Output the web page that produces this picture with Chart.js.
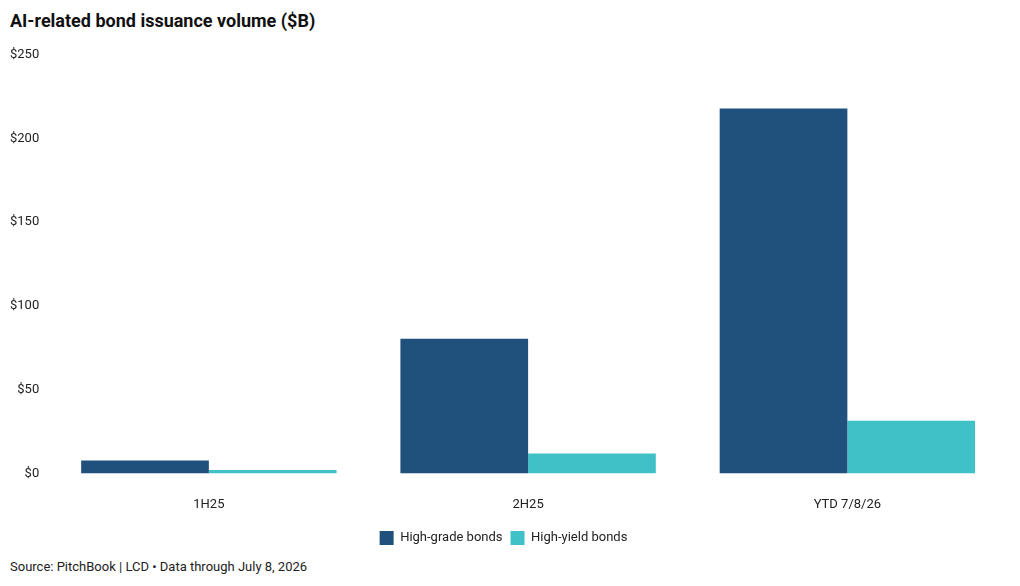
<!DOCTYPE html>
<html lang="en">
<head>
    <meta charset="UTF-8">
    <title>AI-related bond issuance volume</title>
    <script src="https://cdn.jsdelivr.net/npm/chart.js"></script>
    <style>
        html, body { margin: 0; padding: 0; background: #fff; }
        body { width: 1020px; height: 586px; position: relative; overflow: hidden; font-family: Roboto, 'Noto Sans', sans-serif; }
        #title { position: absolute; left: 10px; top: 10px; font-size: 18px; font-weight: 700; color: #111; }
        #chartBox { position: absolute; left: 0; top: 37px; width: 1020px; height: 518px; }
        #source { position: absolute; left: 10px; top: 559px; font-size: 13px; color: #222; }
    </style>
</head>
<body>
<div id="title">AI-related bond issuance volume ($B)</div>
<div id="chartBox"><canvas id="chart"></canvas></div>
<div id="source">Source: PitchBook | LCD • Data through July 8, 2026</div>

<script>
    // data
    const categories = ['1H25', '2H25', 'YTD 7/8/26'];
    const highGrade = [7.7, 80.4, 217.9];
    const highYield = [2.1, 11.9, 31.5];
    const seriesNames = ['High-grade bonds', 'High-yield bonds'];

    const fontFam = "Roboto, sans-serif";

    new Chart(document.getElementById('chart'), {
        type: 'bar',
        data: {
            labels: categories,
            datasets: [
                { label: seriesNames[0], data: highGrade, backgroundColor: '#1f517c' },
                { label: seriesNames[1], data: highYield, backgroundColor: '#40c1c7' }
            ]
        },
        options: {
            responsive: true,
            maintainAspectRatio: false,
            animation: false,
            categoryPercentage: 0.8,
            barPercentage: 1.0,
            layout: { padding: { left: 0, right: 13, top: 0, bottom: 0 } },
            plugins: {
                legend: {
                    position: 'bottom',
                    labels: {
                        boxWidth: 14,
                        boxHeight: 14,
                        padding: 8,
                        color: '#222',
                        font: { family: fontFam, size: 13 }
                    }
                },
                tooltip: { enabled: false }
            },
            scales: {
                x: {
                    grid: { display: false, drawTicks: false },
                    border: { display: false },
                    ticks: { color: '#222', padding: 24, font: { family: fontFam, size: 13 } },
                    // pull the axis closer to the legend, like the reference
                    afterFit: scale => { scale.height -= 14; }
                },
                y: {
                    min: 0,
                    max: 250,
                    grid: { display: false, drawTicks: false },
                    border: { display: false },
                    ticks: {
                        stepSize: 50,
                        padding: 10,
                        color: '#222',
                        font: { family: fontFam, size: 13 },
                        callback: v => '$' + v
                    }
                }
            }
        }
    });
</script>
</body>
</html>
